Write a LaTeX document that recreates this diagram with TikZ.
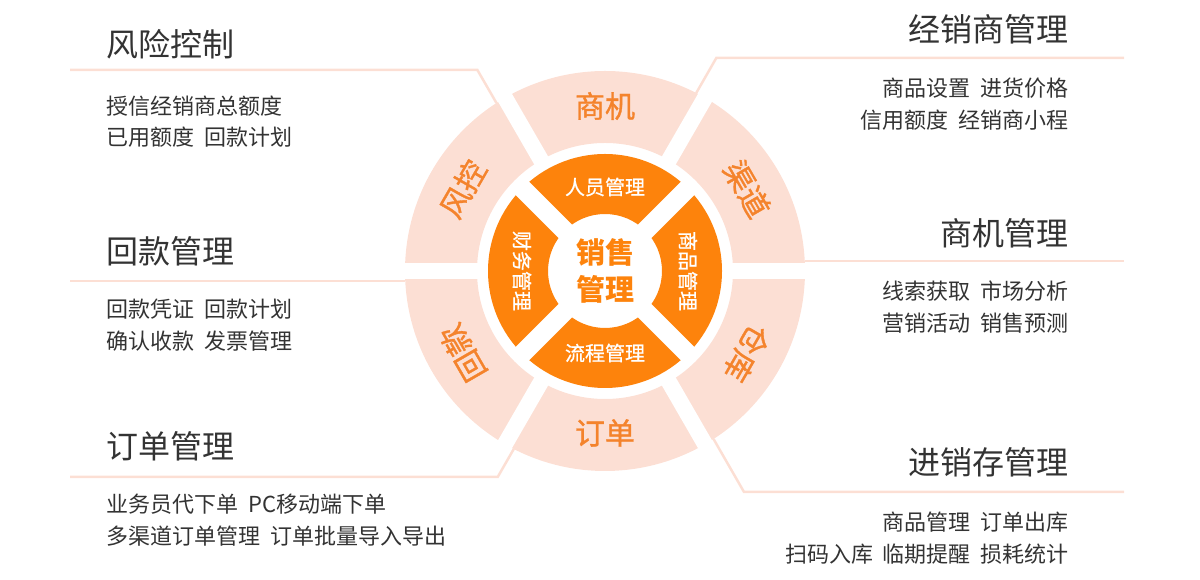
\documentclass[tikz,border=0pt]{standalone}
\usepackage{fontspec}
\setmainfont{Noto Sans CJK SC}
\newfontfamily\segfont[FakeBold=1.2]{Noto Sans CJK SC}
\newfontfamily\corefont[FakeBold=0.8]{Noto Sans CJK SC}
\usetikzlibrary{calc}
\definecolor{peach}{RGB}{252,223,212}
\definecolor{deeporange}{RGB}{253,131,12}
\definecolor{ringtext}{RGB}{244,131,44}
\definecolor{darktext}{RGB}{51,51,51}

\begin{document}
\begin{tikzpicture}[x=1pt,y=1pt]
 	\def \leftx{106}
 	\def \rightx{1069}
 	\def \gap{\hspace{0.45em}}
 	\tikzstyle{ltitle}=[anchor=west,inner sep=0pt,text=darktext,font=\fontsize{32}{32}\selectfont]
 	\tikzstyle{rtitle}=[ltitle,anchor=east]
 	\tikzstyle{lbody}=[anchor=west,inner sep=0pt,text=darktext,font=\fontsize{22}{22}\selectfont]
 	\tikzstyle{rbody}=[lbody,anchor=east]
 	\tikzstyle{seg-label}=[inner sep=0pt,text=ringtext,font=\segfont\fontsize{30}{30}\selectfont]
 	\tikzstyle{core-label}=[inner sep=0pt,text=white,font=\corefont\fontsize{20}{20}\selectfont]
 	\tikzstyle{hub-label}=[inner sep=0pt,text=deeporange,font=\fontsize{29}{29}\selectfont\bfseries]
 	\tikzstyle{link}=[draw=peach,line width=2.5pt]
 	\useasboundingbox (0,0) rectangle (1200,580);
 	\coordinate (c) at (605,309);

 	% connectors
 	\coordinate (fk-a) at ($(c)+(210:10)+(120:199.7)$);
 	\coordinate (fk-b) at (477.4,510);
 	\coordinate (fk-c) at (70,510);
 	\coordinate (hk-a) at ($(c)+(270:10)+(180:199.7)$);
 	\coordinate (hk-c) at (70,299);
 	\coordinate (dd-a) at ($(c)+(330:10)+(240:199.7)$);
 	\coordinate (dd-b) at (497.7,103);
 	\coordinate (dd-c) at (70,103);
 	\coordinate (jx-a) at ($(c)+(150:10)+(60:199.7)$);
 	\coordinate (jx-b) at (716.3,522);
 	\coordinate (jx-c) at (1124,522);
 	\coordinate (sj-a) at ($(c)+(90:10)+(0:199.7)$);
 	\coordinate (sj-c) at (1124,319);
 	\coordinate (jxc-a) at ($(c)+(30:10)+(300:199.7)$);
 	\coordinate (jxc-b) at (744,88);
 	\coordinate (jxc-c) at (1124,88);
 	\draw[link] (fk-a) -- (fk-b) -- (fk-c);
 	\draw[link] (hk-a) -- (hk-c);
 	\draw[link] (dd-a) -- (dd-b) -- (dd-c);
 	\draw[link] (jx-a) -- (jx-b) -- (jx-c);
 	\draw[link] (sj-a) -- (sj-c);
 	\draw[link] (jxc-a) -- (jxc-b) -- (jxc-c);

 	% outer ring
 	\fill[peach,even odd rule] (c) circle (200) (c) circle (128);
 	\foreach \a in {0,60,120}
 		\draw[white,line width=16pt] ($(c)+(\a:201)$) -- ($(c)+(\a+180:201)$);

 	% inner ring
 	\fill[deeporange,even odd rule] (c) circle (117) (c) circle (57);
 	\foreach \a in {45,135}
 		\draw[white,line width=19pt] ($(c)+(\a:118)$) -- ($(c)+(\a+180:118)$);

 	% ring labels
 	\node[seg-label] (sj-seg) at ($(c)+(90:165)$) {商机};
 	\node[seg-label,rotate=-60] (qd-seg) at ($(c)+(30:164)$) {渠道};
 	\node[seg-label,rotate=-120] (ck-seg) at ($(c)+(-30:164)$) {仓库};
 	\node[seg-label] (dd-seg) at ($(c)+(270:162)$) {订单};
 	\node[seg-label,rotate=120] (hk-seg) at ($(c)+(210:164)$) {回款};
 	\node[seg-label,rotate=60] (fk-seg) at ($(c)+(150:164)$) {风控};

 	\node[core-label] (ry-core) at ($(c)+(90:84)$) {人员管理};
 	\node[core-label,rotate=-90] (sp-core) at ($(c)+(0:83)$) {商品管理};
 	\node[core-label] (lc-core) at ($(c)+(270:82)$) {流程管理};
 	\node[core-label,rotate=-90] (cw-core) at ($(c)+(180:83)$) {财务管理};

 	\node[hub-label] (hub-1) at (605,328) {销售};
 	\node[hub-label] (hub-2) at (605,291) {管理};

 	% left column
 	\node[ltitle] (fk-title) at (\leftx,536) {风险控制};
 	\node[lbody] (fk-l1) at (\leftx,474) {授信经销商总额度};
 	\node[lbody] (fk-l2) at (\leftx,443) {已用额度\gap 回款计划};
 	\node[ltitle] (hk-title) at (\leftx,329) {回款管理};
 	\node[lbody] (hk-l1) at (\leftx,271) {回款凭证\gap 回款计划};
 	\node[lbody] (hk-l2) at (\leftx,239) {确认收款\gap 发票管理};
 	\node[ltitle] (dd-title) at (\leftx,134) {订单管理};
 	\node[lbody] (dd-l1) at (\leftx,76) {业务员代下单\gap PC移动端下单};
 	\node[lbody] (dd-l2) at (\leftx,44) {多渠道订单管理\gap 订单批量导入导出};

 	% right column
 	\node[rtitle] (jx-title) at (\rightx,551) {经销商管理};
 	\node[rbody] (jx-l1) at (\rightx,492) {商品设置\gap 进货价格};
 	\node[rbody] (jx-l2) at (\rightx,460) {信用额度\gap 经销商小程};
 	\node[rtitle] (sj-title) at (\rightx,347) {商机管理};
 	\node[rbody] (sj-l1) at (\rightx,289) {线索获取\gap 市场分析};
 	\node[rbody] (sj-l2) at (\rightx,257) {营销活动\gap 销售预测};
 	\node[rtitle] (jxc-title) at (\rightx,118) {进销存管理};
 	\node[rbody] (jxc-l1) at (\rightx,58) {商品管理\gap 订单出库};
 	\node[rbody] (jxc-l2) at (\rightx,26) {扫码入库\gap 临期提醒\gap 损耗统计};
\end{tikzpicture}
\end{document}
